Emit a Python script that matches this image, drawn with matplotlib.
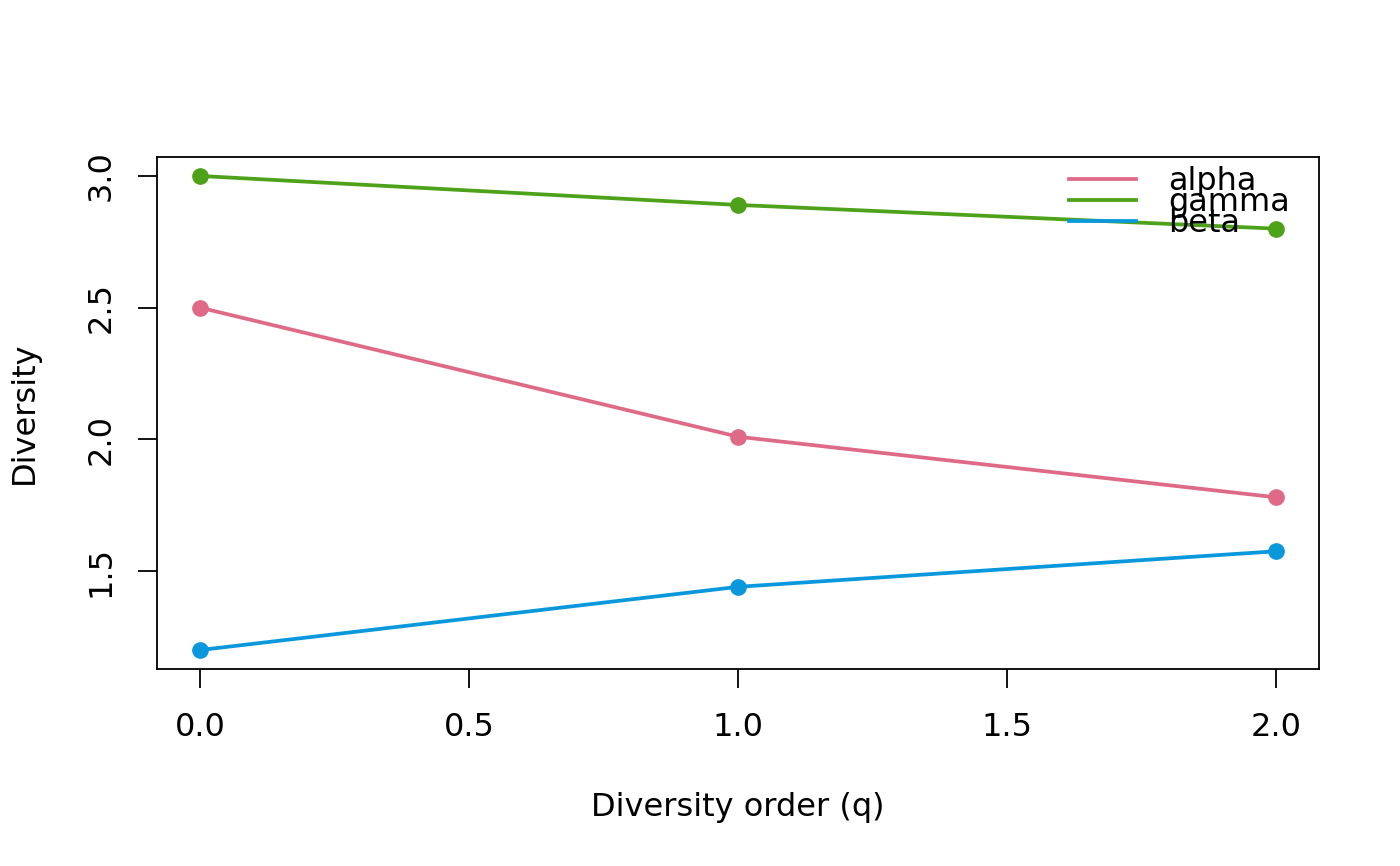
import numpy as np
from matplotlib import pyplot as plt

#################################################

# diversity order and the three profiles
q = [0, 1, 2]
alpha = [2.50, 2.01, 1.78]
gamma = [3.00, 2.89, 2.80]
beta = [1.20, 1.44, 1.575]

series_names = ['alpha', 'gamma', 'beta']
series_colors = ['#DF6A87', '#4DA21A', '#0A98DD']

xticks = [0.0, 0.5, 1.0, 1.5, 2.0]
yticks = [1.5, 2.0, 2.5, 3.0]

#################################################

plt.rcParams['font.family'] = 'DejaVu Sans'
fs = 23

fig = plt.figure(figsize=(14, 8.66), dpi=100)
ax = fig.add_axes([157/1400, 197/866, 1162/1400, 512/866])

for vals, name, col in zip([alpha, gamma, beta], series_names, series_colors):
    ax.plot(q, vals, color=col, lw=2.7, marker='o', ms=11, label=name)

ax.set_xlim(-0.08, 2.08)
ax.set_ylim(1.128, 3.072)
ax.set_xticks(xticks)
ax.set_xticklabels(['%.1f' % t for t in xticks])
ax.set_yticks(yticks)
ax.set_yticklabels(['%.1f' % t for t in yticks], rotation=90, va='center')
ax.tick_params(length=14, width=1.3, labelsize=fs, pad=15)
ax.tick_params(axis='x', pad=17)
for s in ax.spines.values():
    s.set_linewidth(1.3)

ax.set_xlabel('Diversity order (q)', fontsize=fs, labelpad=35)
ax.set_ylabel('Diversity', fontsize=fs, labelpad=33)

# legend without markers, tight rows like in the original
handles = [plt.Line2D([], [], color=c, lw=2.7) for c in series_colors]
ax.legend(handles, series_names, loc='upper right', frameon=False,
          fontsize=fs, handlelength=2.1, handletextpad=1.0,
          labelspacing=-0.32, borderpad=0.0, borderaxespad=0.0,
          bbox_to_anchor=(0.975, 0.982), bbox_transform=ax.transAxes)

plt.savefig('out.png', dpi=100)
